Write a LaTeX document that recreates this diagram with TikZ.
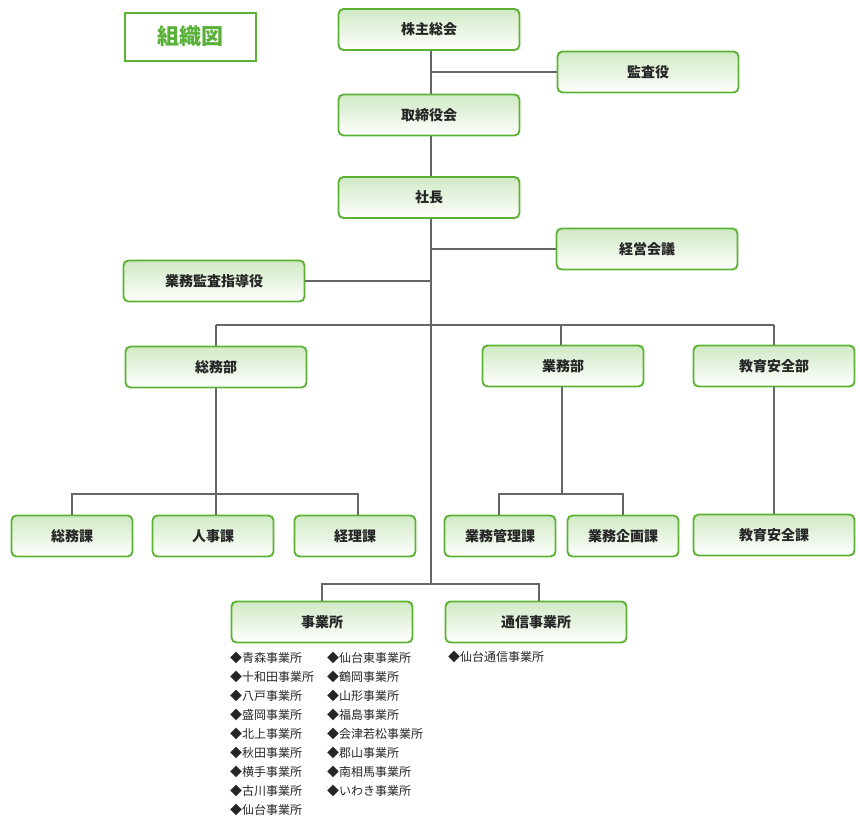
\documentclass[tikz,border=0pt]{standalone}
\usepackage{fontspec}
\newfontfamily\jp{Noto Sans CJK JP}
\begin{document}
\begin{tikzpicture}[x=1pt,y=-1pt,
  box/.style={draw=boxgreen, line width=1.9pt, rounded corners=5pt,
    top color=gtop, bottom color=white, minimum height=41pt,
    font=\jp\bfseries\fontsize{14}{16}\selectfont, text=black!85, inner sep=0pt},
  conn/.style={draw=linegray, line width=1.8pt},
  item/.style={anchor=west, inner sep=0pt, font=\jp\fontsize{12}{14}\selectfont, text=black!85}]
\definecolor{boxgreen}{RGB}{92,178,52}
\definecolor{gtop}{RGB}{208,234,196}
\definecolor{linegray}{RGB}{102,102,102}
\definecolor{titlegreen}{RGB}{88,176,56}
\useasboundingbox (0,0) rectangle (860,838);
% title
\node[draw=boxgreen, line width=2pt, minimum width=131pt, minimum height=48pt, inner sep=0pt,
  font=\jp\bfseries\fontsize{22}{24}\selectfont, text=titlegreen] (title) at (190,36.5) {組織図};
% boxes
\node[box, minimum width=181pt] (kabu) at (429,29.5) {株主総会};
\node[box, minimum width=181pt] (kansa) at (648,72) {監査役};
\node[box, minimum width=181pt] (tori) at (429,115) {取締役会};
\node[box, minimum width=181pt] (shacho) at (429,197.5) {社長};
\node[box, minimum width=181pt] (keiei) at (647,249) {経営会議};
\node[box, minimum width=181pt] (gyokan) at (214,281) {業務監査指導役};
\node[box, minimum width=181pt] (somubu) at (216,367) {総務部};
\node[box, minimum width=161pt] (gyomubu) at (563,366) {業務部};
\node[box, minimum width=161pt] (kyoikubu) at (774,366) {教育安全部};
\node[box, minimum width=121pt] (somuka) at (72,536) {総務課};
\node[box, minimum width=121pt] (jinji) at (213,536) {人事課};
\node[box, minimum width=121pt] (keiri) at (355,536) {経理課};
\node[box, minimum width=111pt] (kanri) at (500,536) {業務管理課};
\node[box, minimum width=111pt] (kikaku) at (623,536) {業務企画課};
\node[box, minimum width=161pt] (kyoikuka) at (774,535) {教育安全課};
\node[box, minimum width=181pt] (jigyo) at (322,622) {事業所};
\node[box, minimum width=181pt] (tsushin) at (536,622) {通信事業所};
% junction coordinates
\coordinate (trunk) at (431,0);
\coordinate (bus1) at (0,325);
\coordinate (bus2) at (0,494);
\coordinate (bus3) at (0,584);
% connectors
\draw[conn] (trunk |- kabu.south) -- (trunk |- tori.north);
\draw[conn] (trunk |- tori.south) -- (trunk |- shacho.north);
\draw[conn] (trunk |- shacho.south) -- (trunk |- bus3);
\draw[conn] (trunk |- kansa.west) -- (kansa.west);
\draw[conn] (trunk |- keiei.west) -- (keiei.west);
\draw[conn] (trunk |- gyokan.east) -- (gyokan.east);
\draw[conn] (somubu.north |- bus1) -- (kyoikubu.north |- bus1);
\draw[conn] (somubu.north |- bus1) -- (somubu.north);
\draw[conn] (561,325) -- (561,345);
\draw[conn] (kyoikubu.north |- bus1) -- (kyoikubu.north);
\draw[conn] (somubu.south) -- (somubu.south |- jinji.north);
\draw[conn] (somuka.north) -- (somuka.north |- bus2) -- (358,494) -- (358,515);
\draw[conn] (562,387) -- (562,494);
\draw[conn] (499,515) -- (499,494) -- (623,494) -- (kikaku.north);
\draw[conn] (kyoikubu.south) -- (kyoikuka.north);
\draw[conn] (jigyo.north) -- (jigyo.north |- bus3) -- (539,584) -- (539,601);
% lists
\foreach \t [count=\i] in {◆青森事業所,◆十和田事業所,◆八戸事業所,◆盛岡事業所,◆北上事業所,◆秋田事業所,◆横手事業所,◆古川事業所,◆仙台事業所}
  \node[item] (a\i) at (230,{639+19*\i}) {\t};
\foreach \t [count=\i] in {◆仙台東事業所,◆鶴岡事業所,◆山形事業所,◆福島事業所,◆会津若松事業所,◆郡山事業所,◆南相馬事業所,◆いわき事業所}
  \node[item] (b\i) at (327,{639+19*\i}) {\t};
\node[item] (c1) at (448,657) {◆仙台通信事業所};
\end{tikzpicture}
\end{document}
